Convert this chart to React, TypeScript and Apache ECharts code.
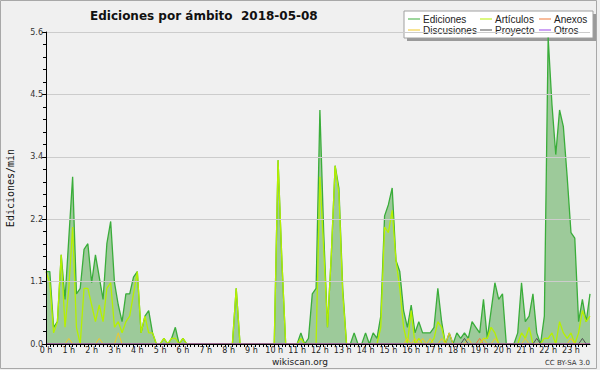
import React, { useEffect, useRef } from "react";
import * as echarts from "echarts";

// 10-minute slots (144 per day), values in edits/min
const ediciones = [
  1.3, 1.3, 0.3, 0.4, 1.6, 0.8, 1.9, 3.0, 0.9, 1.0,
  1.7, 1.8, 1.1, 1.6, 1.2, 0.8, 1.8, 2.2, 1.1, 0.7,
  0.4, 0.9, 0.9, 1.2, 1.3, 0.2, 0.5, 0.6, 0.2, 0,
  0, 0.1, 0, 0.1, 0.3, 0, 0.1, 0, 0, 0,
  0, 0, 0, 0, 0, 0, 0, 0, 0, 0,
  1.0, 0, 0, 0, 0, 0, 0, 0, 0, 0,
  0, 3.3, 1.5, 0, 0, 0, 0, 0.2, 0, 0.1,
  0.9, 1.0, 4.2, 2.0, 0.3, 1.6, 3.2, 2.8, 1.0, 0,
  0, 0.2, 0, 0, 0.2, 0, 0.2, 0.1, 0.5, 2.3,
  2.5, 2.8, 1.5, 1.3, 0.6, 0.3, 0.7, 0.2, 0.4, 0.2,
  0.2, 0.2, 0.3, 1.0, 0.4, 0, 0.2, 0, 0.2, 0.1,
  0.2, 0.1, 0.4, 0.3, 0.2, 0.8, 0.1, 0.6, 1.1, 0.8,
  0.9, 0, 0, 0, 0.2, 1.1, 0.4, 0.5, 0.9, 0.2,
  0, 0.5, 5.5, 4.3, 3.4, 4.2, 3.9, 3.0, 2.0, 1.9,
  0.4, 0.8, 0.4, 0.9,
];

const articulos = [
  1.3, 1.1, 0.2, 0.4, 1.6, 0.3, 1.0, 2.1, 0.3, 0,
  1.0, 1.0, 0.7, 0.4, 0.7, 0.4, 1.0, 1.1, 0.3, 0.4,
  0.2, 0.4, 0.5, 0.9, 1.3, 0.2, 0.5, 0.2, 0.2, 0,
  0, 0.1, 0, 0.1, 0.1, 0, 0.1, 0, 0, 0,
  0, 0, 0, 0, 0, 0, 0, 0, 0, 0,
  1.0, 0, 0, 0, 0, 0, 0, 0, 0, 0,
  0, 3.3, 1.5, 0, 0, 0, 0, 0.1, 0, 0,
  0, 0, 3.0, 1.7, 0.3, 1.6, 3.2, 2.7, 0.9, 0,
  0, 0, 0, 0, 0, 0, 0, 0, 0.3, 2.1,
  2.0, 2.4, 1.5, 1.0, 0.3, 0, 0.6, 0, 0.1, 0,
  0, 0, 0.1, 0.4, 0.3, 0, 0, 0, 0, 0,
  0, 0, 0, 0, 0, 0.1, 0.1, 0.3, 0.2, 0,
  0, 0, 0, 0, 0, 0.2, 0.1, 0.3, 0, 0,
  0, 0.1, 0.1, 0.2, 0, 0.4, 0.2, 0.1, 0.2, 0,
  0.2, 0.6, 0.4, 0.5,
];

// sparse series: [slot, value]; every other slot is 0
const anexosPts = [[114, 0.1]];
const discusionesPts = [
  [6, 0.1], [14, 0.1], [19, 0.2], [95, 0.1], [97, 0.1], [99, 0.1], [101, 0.1],
  [104, 0.1], [106, 0.2], [111, 0.1], [115, 0.1], [118, 0.1], [126, 0.1], [138, 0.1],
];
const proyectoPts = [[110, 0.1], [129, 0.1], [141, 0.1]];
const otrosPts: number[][] = [];

const SLOTS = 144;
const SLOTS_PER_HOUR = 6;
const Y_MAX = 5.6;
const Y_INTERVAL = 1.12;

function expand(pts: number[][]) {
  const a = new Array(SLOTS).fill(0);
  pts.forEach(([i, v]) => (a[i] = v));
  return a;
}
const toXY = (arr: number[]) => arr.map((v, i) => [i, v]);

const FONT = "DejaVu Sans";

export default function App() {
  const ref = useRef<HTMLDivElement>(null);
  useEffect(() => {
    const chart = echarts.init(ref.current!, undefined, { renderer: "svg" });
    const lineSeries = (name: string, data: number[], color: string, width = 1.2, z = 3) => ({
      name,
      type: "line",
      data: toXY(data),
      showSymbol: false,
      symbol: "none",
      lineStyle: { color, width },
      itemStyle: { color },
      z,
    });
    const legendBase = {
      orient: "vertical",
      top: 14,
      padding: 0,
      itemGap: 1,
      itemWidth: 12,
      itemHeight: 1,
      icon: "rect",
      textStyle: { fontFamily: "Liberation Sans", fontSize: 10, color: "#222", lineHeight: 10, padding: [0, 0, 0, -2] },
      selectedMode: false,
    };
    chart.setOption({
      animation: false,
      backgroundColor: "#f0f0f0",
      title: {
        text: "Ediciones por ámbito  2018-05-08",
        left: 85,
        top: 5,
        textStyle: { fontFamily: FONT, fontSize: 12, fontWeight: "bold", color: "#111" },
      },
      legend: [
        { ...legendBase, left: 408, data: ["Ediciones", "Discusiones"] },
        { ...legendBase, left: 480, data: ["Artículos", "Proyecto"] },
        { ...legendBase, left: 539, data: ["Anexos", "Otros"] },
      ],
      grid: {
        left: 46,
        right: 10,
        top: 32,
        bottom: 26,
        show: true,
        backgroundColor: "#f0f0f0",
        borderWidth: 0,
        outerBoundsMode: "none",
        containLabel: false,
      },
      xAxis: {
        type: "value",
        min: 0,
        max: SLOTS - 1,
        interval: 1,
        z: 10,
        axisLine: { show: true, onZero: false, lineStyle: { color: "#000", width: 1 } },
        axisTick: { show: true, length: 3, lineStyle: { color: "#000" } },
        splitLine: { show: false },
        axisLabel: {
          fontFamily: FONT,
          fontSize: 8,
          color: "#222",
          margin: 2,
          showMaxLabel: false,
          formatter: (v: number) => (v % SLOTS_PER_HOUR === 0 ? `${v / SLOTS_PER_HOUR} h` : ""),
        },
      },
      yAxis: {
        type: "value",
        min: 0,
        max: Y_MAX,
        interval: Y_INTERVAL,
        z: 10,
        name: "Ediciones/min",
        nameLocation: "middle",
        nameGap: 31,
        nameTextStyle: { fontFamily: "DejaVu Sans Mono", fontSize: 10, color: "#111" },
        axisLine: { show: true, lineStyle: { color: "#000", width: 1 } },
        axisTick: { show: true, length: 4, lineStyle: { color: "#000" } },
        minorTick: { show: true, splitNumber: 5, length: 3, lineStyle: { color: "#000" } },
        splitLine: { show: true, lineStyle: { color: "#cccccc", width: 1 } },
        axisLabel: {
          fontFamily: FONT,
          fontSize: 8,
          color: "#333",
          margin: 3,
          formatter: (v: number) => v.toFixed(1),
        },
      },
      graphic: [
        { type: "rect", z: 1, shape: { x: 407, y: 14, width: 189, height: 27 }, style: { fill: "#9a9a9a" } },
        { type: "rect", z: 2, shape: { x: 404, y: 11, width: 189, height: 27 }, style: { fill: "#ffffff", stroke: "#a0a0a0", lineWidth: 1 } },
        { type: "text", z: 2, x: 300, y: 357, style: { text: "wikiscan.org", fontFamily: FONT, fontSize: 9, fill: "#222", textAlign: "center" } },
        { type: "text", z: 2, x: 590, y: 359, style: { text: "CC BY-SA 3.0", fontFamily: FONT, fontSize: 7, fill: "#333", textAlign: "right" } },
        { type: "rect", z: 0, shape: { x: 0.5, y: 0.5, width: 596, height: 368 }, style: { fill: "none", stroke: "#a8a8a8", lineWidth: 1 } },
      ],
      series: [
        {
          ...lineSeries("Ediciones", ediciones, "#3aad3a", 1.3, 2),
          areaStyle: { color: "#9dca9a", opacity: 1 },
        },
        lineSeries("Artículos", articulos, "#b6f000", 1.3, 4),
        lineSeries("Anexos", expand(anexosPts), "#f07838", 1, 5),
        lineSeries("Discusiones", expand(discusionesPts), "#f0c828", 1, 5),
        lineSeries("Proyecto", expand(proyectoPts), "#505050", 1, 5),
        lineSeries("Otros", expand(otrosPts), "#9a44e8", 1, 5),
      ],
    });
    return () => chart.dispose();
  }, []);
  return <div ref={ref} style={{ position: "fixed", left: 0, top: 0, width: 600, height: 370 }} />;
}
